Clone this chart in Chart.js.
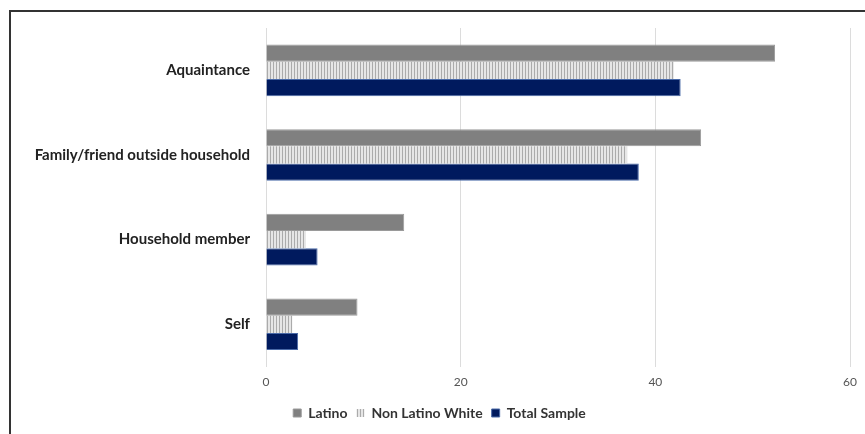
<!DOCTYPE html>
<html>
<head>
<meta charset="utf-8">
<script src="https://cdn.jsdelivr.net/npm/chart.js@4/dist/chart.umd.min.js"></script>
<style>
  html, body { margin: 0; padding: 0; background: #fff; }
  #wrap { position: relative; width: 865px; height: 434px; }
  #frame { position: absolute; left: 9px; top: 10px; right: -5px; bottom: -5px;
           border-top: 2px solid #333; border-left: 2px solid #333; }
  #c { position: absolute; left: 0; top: 0; }
</style>
</head>
<body>
<div id="wrap">
  <div id="frame"></div>
  <canvas id="c" width="865" height="434"></canvas>
</div>
<script>
var categories = ["Aquaintance", "Family/friend outside household", "Household member", "Self"];
var latino = [52.3, 44.7, 14.2, 9.4];
var nonLatinoWhite = [41.9, 37.1, 4.1, 2.7];
var totalSample = [42.6, 38.3, 5.3, 3.3];
var xTicks = [0, 20, 40, 60];

// vertical stripe fill for the Non Latino White bars
function stripes() {
  var p = document.createElement('canvas');
  p.width = 3; p.height = 3;
  var g = p.getContext('2d');
  g.fillStyle = '#e6e6e6'; g.fillRect(0, 0, 3, 3);
  g.fillStyle = '#ababab'; g.fillRect(0, 0, 1, 3);
  return g.createPattern(p, 'repeat');
}
var nlwFill = stripes();

var ctx = document.getElementById('c');
var chart = new Chart(ctx, {
  type: 'bar',
  data: {
    labels: categories,
    datasets: [
      { label: 'Latino', data: latino, backgroundColor: '#808080', borderColor: '#9a9a9a', borderWidth: 1 },
      { label: 'Non Latino White', data: nonLatinoWhite, backgroundColor: nlwFill, borderWidth: 0 },
      { label: 'Total Sample', data: totalSample, backgroundColor: '#001a5e', borderColor: '#4a6aa8', borderWidth: 1 }
    ]
  },
  options: {
    indexAxis: 'y',
    responsive: false,
    animation: false,
    layout: { padding: { left: 28, right: 14, top: 28, bottom: 4 } },
    datasets: { bar: { categoryPercentage: 0.61, barPercentage: 1 } },
    scales: {
      x: {
        min: 0, max: 60,
        afterBuildTicks: function(axis) {
          axis.ticks = xTicks.map(function(v){ return { value: v }; });
        },
        grid: { color: '#dcdcdc', drawTicks: false },
        border: { display: false },
        ticks: { color: '#555', padding: 8, font: { family: 'Lato', size: 12 } }
      },
      y: {
        grid: { display: false, drawTicks: false },
        border: { display: false },
        afterFit: function(axis) { axis.width = 238; },
        ticks: { color: '#222', padding: 16, font: { family: 'Lato', size: 15, weight: 'bold' } }
      }
    },
    plugins: {
      legend: {
        position: 'bottom',
        labels: {
          boxWidth: 8, boxHeight: 8, padding: 9,
          color: '#333',
          font: { family: 'Lato', size: 14, weight: 'bold' }
        }
      },
      tooltip: { enabled: false }
    }
  }
});
</script>
</body>
</html>
